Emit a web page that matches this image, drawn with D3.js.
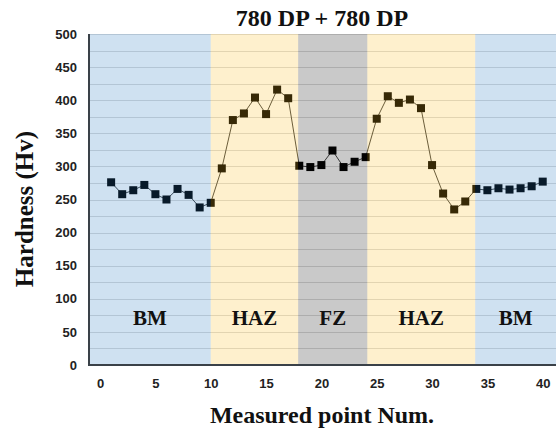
<!DOCTYPE html>
<html><head><meta charset="utf-8">
<script src="https://cdn.jsdelivr.net/npm/d3@7"></script>
<style>body{margin:0;background:#fff}svg{display:block}</style>
</head><body><svg id="c" width="560" height="430"></svg>
<script>
const points = d3.range(1, 41);
const hardness = [276,258,264,272,258,250,266,257,238,245,
  297,370,380,404,379,416,403,301,299,302,
  324,299,307,314,372,406,396,401,388,302,
  259,235,247,266,264,267,265,267,270,277];
const zoneNames = ["BM","HAZ","FZ","HAZ","BM"];
const zoneEdges = [-1,10,17.9,24.15,33.9,41.2];
const zoneColors = ["rgb(37,119,191)","rgb(250,187,28)","rgb(10,10,10)","rgb(250,187,28)","rgb(37,119,191)"];
const xTicks = [0,5,10,15,20,25,30,35,40];
const yTicks = [0,50,100,150,200,250,300,350,400,450,500];
const gridVals = d3.range(25, 501, 25);

const svg = d3.select("#c");
const L=89, R=556, T=34, B=365;
const x = d3.scaleLinear().domain([-1,41.2]).range([L,R]);
const y = d3.scaleLinear().domain([0,500]).range([B,T]);

// grid
svg.append("g").selectAll("line").data(gridVals).join("line")
  .attr("x1",L).attr("x2",R).attr("y1",d=>Math.round(y(d))+0.5).attr("y2",d=>Math.round(y(d))+0.5)
  .attr("stroke","#dcdcdc").attr("stroke-width",1);

// series line and markers
svg.append("path").datum(points)
  .attr("d", d3.line().x(d=>x(d)).y((d,i)=>y(hardness[i])))
  .attr("fill","none").attr("stroke","#444").attr("stroke-width",1);
svg.append("g").selectAll("rect").data(points).join("rect")
  .attr("x",d=>x(d)-4).attr("y",(d,i)=>y(hardness[i])-4)
  .attr("width",8).attr("height",8).attr("fill","#000");

// translucent zone overlays
svg.append("g").selectAll("rect").data(zoneNames).join("rect")
  .attr("x",(d,i)=>x(zoneEdges[i])).attr("width",(d,i)=>x(zoneEdges[i+1])-x(zoneEdges[i]))
  .attr("y",T).attr("height",B-T)
  .attr("fill",(d,i)=>zoneColors[i]).attr("fill-opacity",0.22);

// zone labels
svg.append("g").selectAll("text").data(zoneNames).join("text")
  .attr("x",(d,i)=>x((zoneEdges[i]+zoneEdges[i+1])/2)).attr("y",325)
  .attr("text-anchor","middle").attr("font-family","Liberation Serif, Times New Roman, serif")
  .attr("font-weight","bold").attr("font-size",21).attr("fill","#111").text(d=>d);

// axes
const xa = svg.append("g").attr("transform",`translate(0,${B})`)
  .call(d3.axisBottom(x).tickValues(xTicks).tickSize(0).tickPadding(14));
const ya = svg.append("g").attr("transform",`translate(${L},0)`)
  .call(d3.axisLeft(y).tickValues(yTicks).tickSize(0).tickPadding(12));
[xa,ya].forEach(a=>{
  a.select(".domain").remove();
  a.selectAll("text").attr("font-family","Liberation Sans, Arial, sans-serif")
   .attr("font-weight","bold").attr("font-size",13).attr("fill","#222");
});
svg.append("path").attr("d",`M${L},${T}V${B}H${R}`).attr("fill","none")
  .attr("stroke","#3a4148").attr("stroke-width",2);

// titles
svg.append("text").attr("x",322).attr("y",26).attr("text-anchor","middle")
  .attr("font-family","Liberation Serif, Times New Roman, serif").attr("font-weight","bold")
  .attr("font-size",24).attr("fill","#111").text("780 DP + 780 DP");
svg.append("text").attr("x",322).attr("y",423).attr("text-anchor","middle")
  .attr("font-family","Liberation Serif, Times New Roman, serif").attr("font-weight","bold")
  .attr("font-size",24).attr("fill","#111").text("Measured point Num.");
svg.append("text").attr("transform","translate(33,209) rotate(-90)").attr("text-anchor","middle")
  .attr("font-family","Liberation Serif, Times New Roman, serif").attr("font-weight","bold")
  .attr("font-size",25).attr("fill","#111").text("Hardness (Hv)");
</script></body></html>
